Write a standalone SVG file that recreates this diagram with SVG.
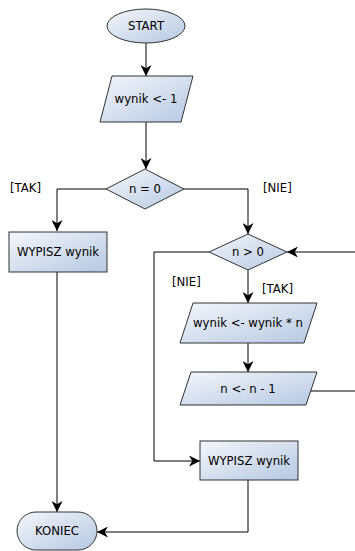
<svg xmlns="http://www.w3.org/2000/svg" width="355" height="551" viewBox="0 0 355 551">
<style>
.n{fill:url(#g);stroke:#333;stroke-width:1}
.t{font-family:"DejaVu Sans",sans-serif;font-size:11.7px;fill:#000;text-anchor:middle;dominant-baseline:central}
.l{font-family:"DejaVu Sans",sans-serif;font-size:11.7px;fill:#000}
.c{fill:none;stroke:#000;stroke-width:1}
</style>
<defs>
<linearGradient id="g" x1="0" y1="0" x2="1" y2="1">
<stop offset="0" stop-color="#f4f6fb"/>
<stop offset="1" stop-color="#b6c8e2"/>
</linearGradient>
<marker id="a" viewBox="0 0 10 10" refX="10" refY="5" markerWidth="11" markerHeight="11" markerUnits="userSpaceOnUse" orient="auto">
<path d="M0,0 L10,5 L0,10 L3,5 Z" fill="#000"/>
</marker>
</defs>
<g id="connectors">
<path class="c" d="M146,43 V76" marker-end="url(#a)"/>
<path class="c" d="M146,122 V169" marker-end="url(#a)"/>
<path class="c" d="M106,189 H57 V231" marker-end="url(#a)"/>
<path class="c" d="M184,189 H248 V234" marker-end="url(#a)"/>
<path class="c" d="M355,252 H287" marker-end="url(#a)"/>
<path class="c" d="M248,270 V303" marker-end="url(#a)"/>
<path class="c" d="M248,343 V372" marker-end="url(#a)"/>
<path class="c" d="M311,391 H355"/>
<path class="c" d="M209,252 H154 V461 H200" marker-end="url(#a)"/>
<path class="c" d="M57,272 V512" marker-end="url(#a)"/>
<path class="c" d="M248,480 V532 H97" marker-end="url(#a)"/>
<text class="l" x="10" y="192">[TAK]</text>
<text class="l" x="263" y="192">[NIE]</text>
<text class="l" x="172" y="286">[NIE]</text>
<text class="l" x="262" y="293">[TAK]</text>
</g>
<g id="start">
<ellipse class="n" cx="146" cy="26" rx="39" ry="17"/>
<text class="t" x="146" y="26">START</text>
</g>
<g id="init">
<polygon class="n" points="112,76 193,76 181,122 100,122"/>
<text class="t" x="146" y="99">wynik &lt;- 1</text>
</g>
<g id="cond1">
<polygon class="n" points="145,169 184,189 145,209 106,189"/>
<text class="t" x="145" y="189">n = 0</text>
</g>
<g id="out1">
<rect class="n" x="9" y="232" width="98" height="40"/>
<text class="t" x="58" y="252">WYPISZ wynik</text>
</g>
<g id="cond2">
<polygon class="n" points="248,234 287,252 248,270 209,252"/>
<text class="t" x="248" y="252">n &gt; 0</text>
</g>
<g id="mult">
<polygon class="n" points="193,303 317,303 304,343 180,343"/>
<text class="t" x="248" y="323">wynik &lt;- wynik * n</text>
</g>
<g id="dec">
<polygon class="n" points="191,372 317,372 306,405 180,405"/>
<text class="t" x="248" y="389">n &lt;- n - 1</text>
</g>
<g id="out2">
<rect class="n" x="200" y="441" width="98" height="39"/>
<text class="t" x="249" y="461">WYPISZ wynik</text>
</g>
<g id="end">
<rect class="n" x="17" y="512" width="80" height="38" rx="19" ry="19"/>
<text class="t" x="57" y="531">KONIEC</text>
</g>
</svg>
